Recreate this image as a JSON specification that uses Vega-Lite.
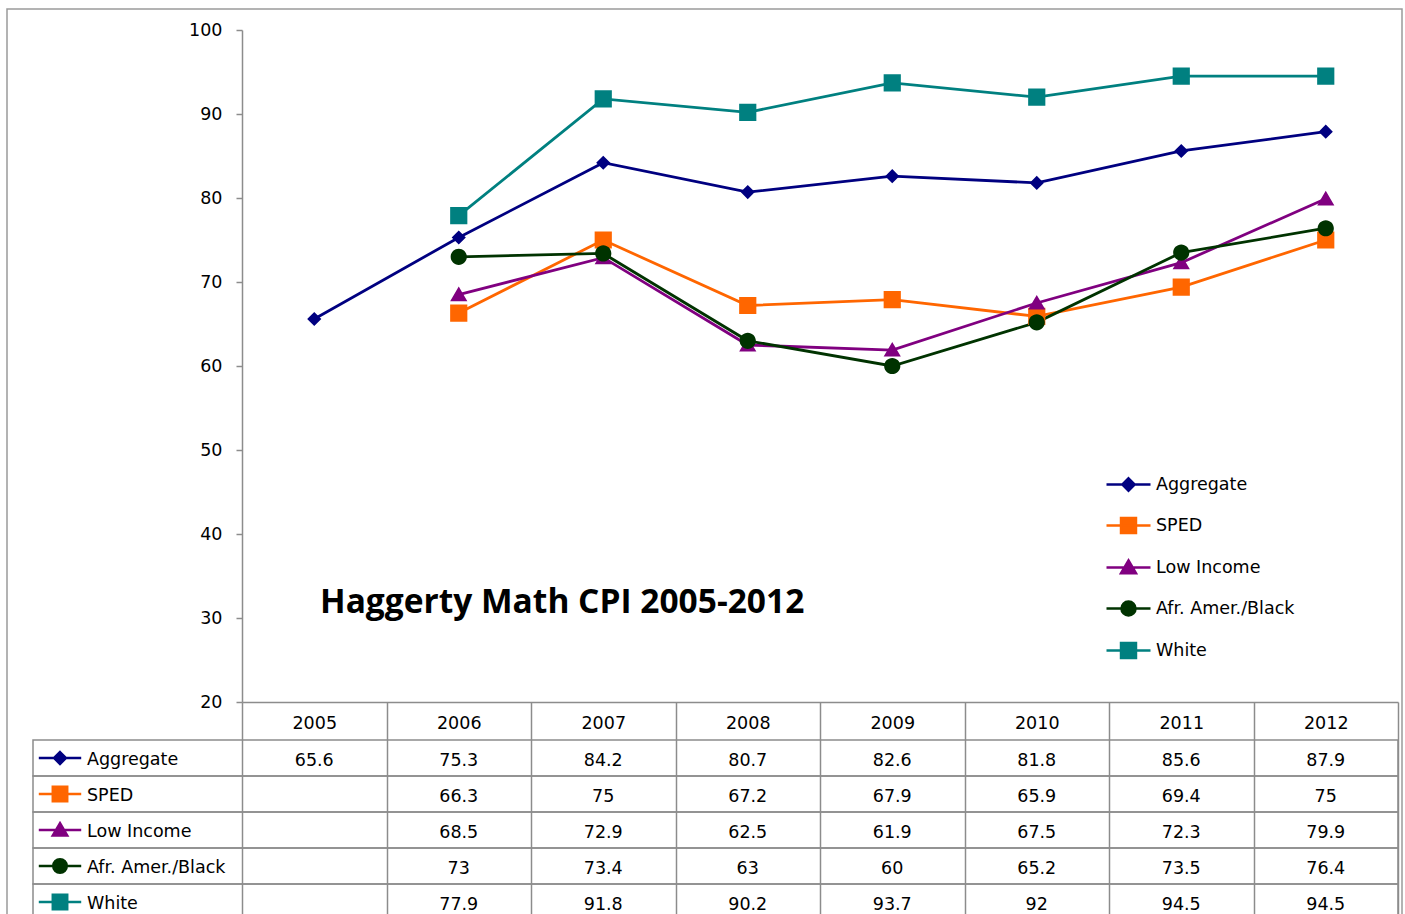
{
  "$schema": "https://vega.github.io/schema/vega-lite/v6.json",
  "width": 1156,
  "height": 672,
  "autosize": "none",
  "padding": {"left": 242, "top": 30, "right": 7, "bottom": 212},
  "background": "white",
  "config": {
    "view": {"stroke": null},
    "font": "DejaVu Sans",
    "text": {"font": "DejaVu Sans"}
  },
  "title": {
    "text": "Haggerty Math CPI 2005-2012",
    "anchor": "start",
    "frame": "group",
    "font": "Open Sans",
    "fontSize": 33.5,
    "fontWeight": "bold",
    "color": "black",
    "offset": 0,
    "baseline": "middle",
    "dx": 78,
    "dy": 628
  },
  "datasets": {
    "cpi": [
      {"year": 2005, "series": "Aggregate", "value": 65.6},
      {"year": 2006, "series": "Aggregate", "value": 75.3},
      {"year": 2007, "series": "Aggregate", "value": 84.2},
      {"year": 2008, "series": "Aggregate", "value": 80.7},
      {"year": 2009, "series": "Aggregate", "value": 82.6},
      {"year": 2010, "series": "Aggregate", "value": 81.8},
      {"year": 2011, "series": "Aggregate", "value": 85.6},
      {"year": 2012, "series": "Aggregate", "value": 87.9},
      {"year": 2006, "series": "SPED", "value": 66.3},
      {"year": 2007, "series": "SPED", "value": 75},
      {"year": 2008, "series": "SPED", "value": 67.2},
      {"year": 2009, "series": "SPED", "value": 67.9},
      {"year": 2010, "series": "SPED", "value": 65.9},
      {"year": 2011, "series": "SPED", "value": 69.4},
      {"year": 2012, "series": "SPED", "value": 75},
      {"year": 2006, "series": "Low Income", "value": 68.5},
      {"year": 2007, "series": "Low Income", "value": 72.9},
      {"year": 2008, "series": "Low Income", "value": 62.5},
      {"year": 2009, "series": "Low Income", "value": 61.9},
      {"year": 2010, "series": "Low Income", "value": 67.5},
      {"year": 2011, "series": "Low Income", "value": 72.3},
      {"year": 2012, "series": "Low Income", "value": 79.9},
      {"year": 2006, "series": "Afr. Amer./Black", "value": 73},
      {"year": 2007, "series": "Afr. Amer./Black", "value": 73.4},
      {"year": 2008, "series": "Afr. Amer./Black", "value": 63},
      {"year": 2009, "series": "Afr. Amer./Black", "value": 60},
      {"year": 2010, "series": "Afr. Amer./Black", "value": 65.2},
      {"year": 2011, "series": "Afr. Amer./Black", "value": 73.5},
      {"year": 2012, "series": "Afr. Amer./Black", "value": 76.4},
      {"year": 2006, "series": "White", "value": 77.9},
      {"year": 2007, "series": "White", "value": 91.8},
      {"year": 2008, "series": "White", "value": 90.2},
      {"year": 2009, "series": "White", "value": 93.7},
      {"year": 2010, "series": "White", "value": 92},
      {"year": 2011, "series": "White", "value": 94.5},
      {"year": 2012, "series": "White", "value": 94.5}
    ]
  },
  "data": {"name": "cpi"},
  "layer": [
    {
      "data": {"values": [{}]},
      "mark": {"type": "rect", "fill": "transparent", "stroke": "#9a9a9a", "strokeWidth": 1.5},
      "encoding": {
        "x": {"value": -235},
        "x2": {"value": 1160},
        "y": {"value": -21},
        "y2": {"value": 950}
      }
    },
    {
      "layer": [
        {
          "mark": {"type": "line", "strokeWidth": 2.8},
          "encoding": {
            "x": {
              "field": "year",
              "type": "ordinal",
              "bandPosition": 0.5,
              "scale": {"type": "band", "paddingInner": 0, "paddingOuter": 0},
              "axis": {
                "title": null,
                "labelAngle": 0,
                "labelFont": "DejaVu Sans",
                "labelFontSize": 17.5,
                "labelColor": "black",
                "domainColor": "#8c8c8c",
                "domainWidth": 1.5,
                "tickColor": "#8c8c8c",
                "tickWidth": 1.5,
                "tickSize": 212,
                "tickBand": "extent",
                "labelPadding": -200,
                "grid": false
              }
            },
            "y": {
              "field": "value",
              "type": "quantitative",
              "scale": {"domain": [20, 100], "nice": false, "zero": false},
              "axis": {
                "title": null,
                "values": [20, 30, 40, 50, 60, 70, 80, 90, 100],
                "labelFont": "DejaVu Sans",
                "labelFontSize": 17.5,
                "labelColor": "black",
                "domainColor": "#8c8c8c",
                "domainWidth": 1.5,
                "tickColor": "#8c8c8c",
                "tickWidth": 1.5,
                "tickSize": 6,
                "labelPadding": 14,
                "grid": false
              }
            },
            "color": {
              "field": "series",
              "type": "nominal",
              "scale": {
                "domain": ["Aggregate", "SPED", "Low Income", "Afr. Amer./Black", "White"],
                "range": ["#000080", "#FF6600", "#800080", "#003300", "#008080"]
              },
              "legend": {
                "title": null,
                "orient": "none",
                "legendX": 863,
                "legendY": 431,
                "padding": 0,
                "rowPadding": 6,
                "labelOffset": 4,
                "labelFont": "DejaVu Sans",
                "labelFontSize": 17.5,
                "labelColor": "black",
                "symbolSize": 1936,
                "symbolStrokeWidth": 2.5,
                "encode": {
                  "symbols": {
                    "update": {
                      "stroke": {"scale": "color", "field": "value"},
                      "strokeWidth": {"value": 2.5},
                      "opacity": {"value": 1}
                    }
                  }
                }
              }
            }
          }
        },
        {
          "mark": {"type": "point", "filled": true, "opacity": 1, "size": 2560, "strokeWidth": 0},
          "encoding": {
            "x": {"field": "year", "type": "ordinal", "bandPosition": 0.5},
            "y": {"field": "value", "type": "quantitative"},
            "color": {"field": "series", "type": "nominal"},
            "shape": {
              "field": "series",
              "type": "nominal",
              "scale": {
                "domain": ["Aggregate", "SPED", "Low Income", "Afr. Amer./Black", "White"],
                "range": [
                  "M-1,0H1M0,-0.28L0.28,0L0,0.28L-0.28,0Z",
                  "M-1,0H1M-0.34,-0.34H0.34V0.34H-0.34Z",
                  "M-1,0H1M0,-0.32L0.34,0.26L-0.34,0.26Z",
                  "M-1,0H1M-0.32,0A0.32,0.32 0 1,1 0.32,0A0.32,0.32 0 1,1 -0.32,0Z",
                  "M-1,0H1M-0.34,-0.34H0.34V0.34H-0.34Z"
                ]
              }
            }
          }
        }
      ]
    },
    {
      "layer": [
        {
          "transform": [{"filter": "datum.year == 2012"}],
          "mark": {"type": "rect", "fill": "transparent", "stroke": "#8c8c8c", "strokeWidth": 1.5},
          "encoding": {
            "y": {
              "field": "series",
              "type": "nominal",
              "scale": {
                "type": "band",
                "domain": ["Aggregate", "SPED", "Low Income", "Afr. Amer./Black", "White"],
                "range": [710, 890],
                "paddingInner": 0,
                "paddingOuter": 0
              },
              "axis": null
            },
            "x": {"value": -209},
            "x2": {"value": 1156}
          }
        },
        {
          "transform": [{"filter": "datum.year == 2012"}],
          "mark": {"type": "point", "filled": true, "opacity": 1, "size": 1800, "strokeWidth": 2.5},
          "encoding": {
            "x": {"value": -182},
            "y": {"field": "series", "type": "nominal"},
            "color": {"field": "series", "type": "nominal"},
            "shape": {"field": "series", "type": "nominal"},
            "stroke": {
              "field": "series",
              "type": "nominal",
              "scale": {
                "domain": ["Aggregate", "SPED", "Low Income", "Afr. Amer./Black", "White"],
                "range": ["#000080", "#FF6600", "#800080", "#003300", "#008080"]
              },
              "legend": null
            }
          }
        },
        {
          "transform": [{"filter": "datum.year == 2012"}],
          "mark": {"type": "text", "align": "left", "baseline": "middle", "dy": 2, "fontSize": 17.5, "font": "DejaVu Sans", "color": "black"},
          "encoding": {
            "x": {"value": -155},
            "y": {"field": "series", "type": "nominal"},
            "text": {"field": "series", "type": "nominal"}
          }
        },
        {
          "mark": {"type": "text", "align": "center", "baseline": "middle", "dy": 3, "fontSize": 17.5, "font": "DejaVu Sans", "color": "black"},
          "encoding": {
            "x": {"field": "year", "type": "ordinal", "bandPosition": 0.5},
            "y": {"field": "series", "type": "nominal"},
            "text": {"field": "value", "type": "nominal"}
          }
        }
      ]
    }
  ],
  "resolve": {"scale": {"y": "independent"}, "axis": {"y": "independent"}}
}
